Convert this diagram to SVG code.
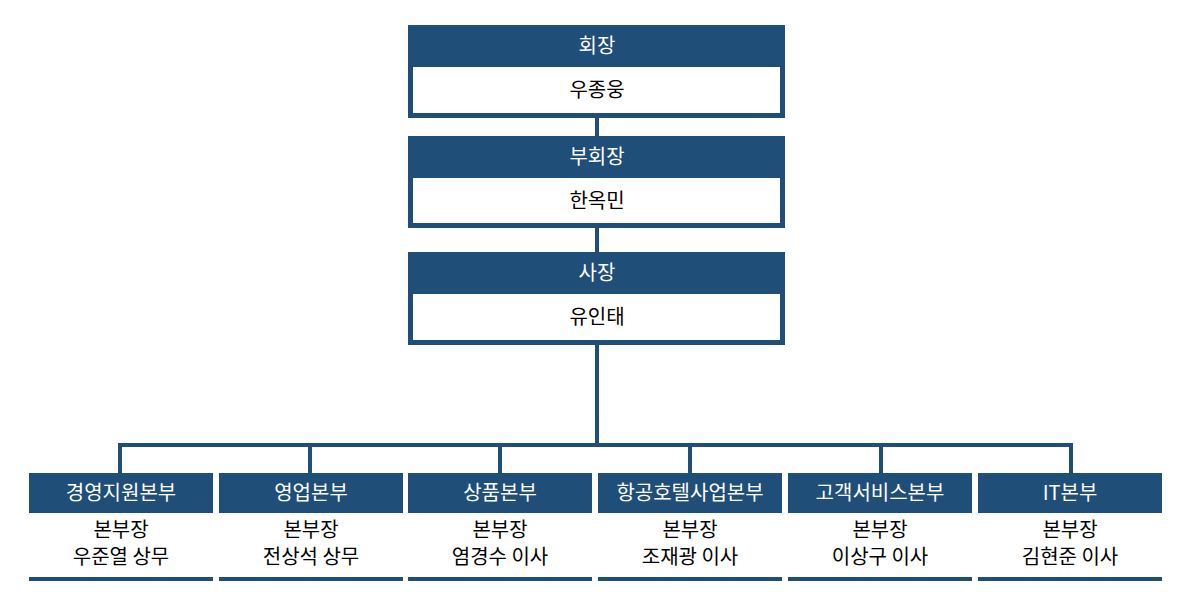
<svg xmlns="http://www.w3.org/2000/svg" width="1188" height="608" viewBox="0 0 1188 608">
<style>
.d{fill:#1f4e79}
.w{fill:#fff}
.t{font-family:"Noto Sans CJK KR","Liberation Sans",sans-serif;font-size:20px;text-anchor:middle}
.tw{fill:#fff}
.tb{fill:#000}
.c{stroke:#1f4e79;stroke-width:4;fill:none}
</style>
<rect width="1188" height="608" fill="#fff"/>
<g id="connectors">
<path class="c" d="M597 118V136M597 228V252M597 345V445M120 445H1071M120 443V473M310 443V473M500 443V473M690 443V473M881 443V473M1071 443V473"/>
</g>
<g id="n1"><rect class="d" x="408" y="25" width="377" height="93"/><rect class="w" x="413" y="67" width="367" height="46"/><text class="t tw" x="597" y="53">회장</text><text class="t tb" x="597" y="97">우종웅</text></g>
<g id="n2"><rect class="d" x="408" y="136" width="377" height="92"/><rect class="w" x="413" y="178" width="367" height="45"/><text class="t tw" x="597" y="164">부회장</text><text class="t tb" x="597" y="208">한옥민</text></g>
<g id="n3"><rect class="d" x="408" y="252" width="377" height="93"/><rect class="w" x="413" y="294" width="367" height="46"/><text class="t tw" x="597" y="280">사장</text><text class="t tb" x="597" y="324">유인태</text></g>
<g id="b1"><rect class="d" x="29" y="473" width="184" height="40"/><rect class="d" x="29" y="577" width="184" height="4"/><text class="t tw" x="121" y="500">경영지원본부</text><text class="t tb" x="121" y="537">본부장</text><text class="t tb" x="121" y="564">우준열 상무</text></g>
<g id="b2"><rect class="d" x="219" y="473" width="184" height="40"/><rect class="d" x="219" y="577" width="184" height="4"/><text class="t tw" x="311" y="500">영업본부</text><text class="t tb" x="311" y="537">본부장</text><text class="t tb" x="311" y="564">전상석 상무</text></g>
<g id="b3"><rect class="d" x="408" y="473" width="184" height="40"/><rect class="d" x="408" y="577" width="184" height="4"/><text class="t tw" x="500" y="500">상품본부</text><text class="t tb" x="500" y="537">본부장</text><text class="t tb" x="500" y="564">염경수 이사</text></g>
<g id="b4"><rect class="d" x="598" y="473" width="184" height="40"/><rect class="d" x="598" y="577" width="184" height="4"/><text class="t tw" x="690" y="500">항공호텔사업본부</text><text class="t tb" x="690" y="537">본부장</text><text class="t tb" x="690" y="564">조재광 이사</text></g>
<g id="b5"><rect class="d" x="788" y="473" width="184" height="40"/><rect class="d" x="788" y="577" width="184" height="4"/><text class="t tw" x="880" y="500">고객서비스본부</text><text class="t tb" x="880" y="537">본부장</text><text class="t tb" x="880" y="564">이상구 이사</text></g>
<g id="b6"><rect class="d" x="978" y="473" width="184" height="40"/><rect class="d" x="978" y="577" width="184" height="4"/><text class="t tw" x="1070" y="500">IT본부</text><text class="t tb" x="1070" y="537">본부장</text><text class="t tb" x="1070" y="564">김현준 이사</text></g>
</svg>
